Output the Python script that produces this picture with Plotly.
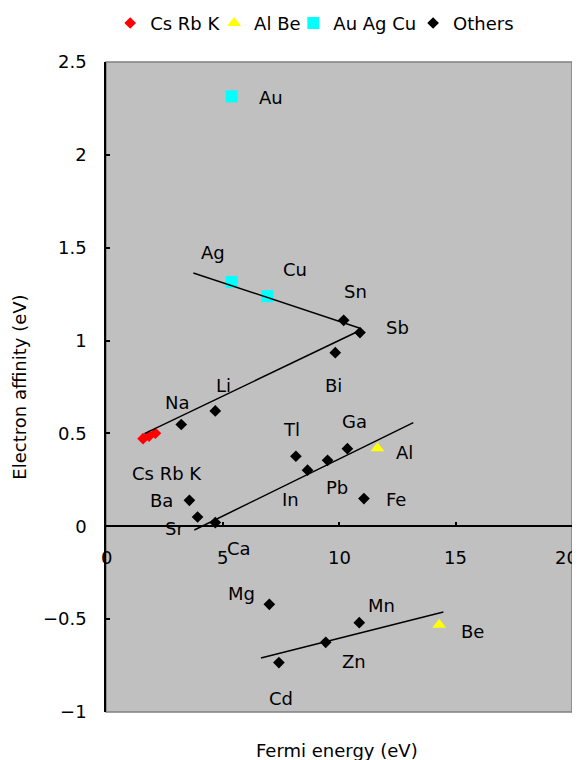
import plotly.graph_objects as go

# ---- data ----
alkali_names = ["Cs", "Rb", "K"]
alkali_x = [1.59, 1.85, 2.12]
alkali_y = [0.472, 0.486, 0.501]

albe_names = ["Al", "Be"]
albe_x = [11.65, 14.3]
albe_y = [0.42, -0.53]

noble_names = ["Au", "Ag", "Cu"]
noble_x = [5.39, 5.39, 6.92]
noble_y = [2.315, 1.316, 1.239]

others_names = ["Sn", "Sb", "Bi", "Li", "Na", "Tl", "In", "Pb", "Ga", "Fe",
                "Ba", "Sr", "Ca", "Mg", "Mn", "Zn", "Cd"]
others_x = [10.2, 10.9, 9.84, 4.69, 3.23, 8.15, 8.65, 9.51, 10.36, 11.07,
            3.58, 3.93, 4.69, 7.01, 10.87, 9.43, 7.42]
others_y = [1.109, 1.043, 0.935, 0.621, 0.548, 0.377, 0.302, 0.355, 0.418, 0.149,
            0.14, 0.05, 0.02, -0.42, -0.519, -0.625, -0.734]

# trend lines (end points)
trend_a_x = [3.75, 10.87]
trend_a_y = [1.364, 1.068]
trend_b_x = [1.65, 10.76]
trend_b_y = [0.499, 1.046]
trend_c_x = [3.79, 13.19]
trend_c_y = [-0.02, 0.558]
trend_d_x = [6.65, 14.48]
trend_d_y = [-0.709, -0.461]

# point labels: text and label position
label_text = ["Au", "Ag", "Cu", "Sn", "Sb", "Bi", "Li", "Na", "Tl", "Ga", "Al",
              "Pb", "Fe", "In", "Cs Rb K", "Ba", "Sr", "Ca", "Mg", "Mn", "Be", "Zn", "Cd"]
label_x = [7.07, 4.58, 8.11, 10.69, 12.49, 9.76, 5.03, 3.06, 7.97, 10.66, 12.83,
           9.9, 12.43, 7.93, 2.6, 2.39, 2.96, 5.71, 5.82, 11.83, 15.74, 10.64, 7.51]
label_y = [2.307, 1.472, 1.382, 1.265, 1.072, 0.759, 0.759, 0.664, 0.521, 0.562, 0.395,
           0.208, 0.145, 0.144, 0.284, 0.14, -0.012, -0.118, -0.362, -0.429, -0.565, -0.727, -0.925]

x_tick_vals = [0, 5, 10, 15, 20]
x_tick_text = ["0", "5", "10", "15", "20"]

x_range = [0, 20]
y_range = [-1, 2.5]

FONT = "DejaVu Sans"
FS = 18

fig = go.Figure()

series = [
    ("Cs Rb K", alkali_x, alkali_y, "diamond", 9, "#ff0000", "legend"),
    ("Al Be", albe_x, albe_y, "triangle-up", 12, "#ffff00", "legend2"),
    ("Au Ag Cu", noble_x, noble_y, "square", 12, "#00ffff", "legend3"),
    ("Others", others_x, others_y, "diamond", 9, "#000000", "legend4"),
]
for name, sx, sy, sym, sz, col, lg in series:
    fig.add_trace(go.Scatter(x=sx, y=sy, mode="markers", name=name, legend=lg,
                             marker=dict(symbol=sym, size=sz, color=col)))

for tx, ty in [(trend_a_x, trend_a_y), (trend_b_x, trend_b_y),
               (trend_c_x, trend_c_y), (trend_d_x, trend_d_y)]:
    fig.add_trace(go.Scatter(x=tx, y=ty, mode="lines", showlegend=False,
                             line=dict(color="black", width=1.5), hoverinfo="skip"))

for t, lx, ly in zip(label_text, label_x, label_y):
    fig.add_annotation(x=lx, y=ly, text=t, showarrow=False,
                       font=dict(family=FONT, size=FS, color="black"),
                       xanchor="center", yanchor="middle")

# x tick labels placed just below the axis line at y = 0
for i, (tv, tt) in enumerate(zip(x_tick_vals, x_tick_text)):
    last = i == len(x_tick_vals) - 1
    fig.add_annotation(x=tv, y=0, text=tt, showarrow=False,
                       font=dict(family=FONT, size=FS, color="black"),
                       xanchor="right" if last else "center",
                       xshift=8 if last else 0,
                       yanchor="middle", yshift=-31)

# x-axis title at bottom
fig.add_annotation(xref="paper", yref="paper", x=0.496, y=-0.0585,
                   text="Fermi energy (eV)", showarrow=False,
                   font=dict(family=FONT, size=FS, color="black"),
                   xanchor="center", yanchor="middle")

# plot-area border (gray)
fig.add_shape(type="rect", xref="paper", yref="paper", x0=0, y0=0, x1=1, y1=1,
              line=dict(color="#808080", width=1.5), layer="below")

zero_pos = (0 - y_range[0]) / (y_range[1] - y_range[0])

def leg(x):
    return dict(orientation="h", x=x, y=1.088, xanchor="left", yanchor="top",
                font=dict(family=FONT, size=FS, color="black"),
                bgcolor="rgba(0,0,0,0)")

fig.update_layout(
    width=580, height=752,
    margin=dict(l=98, r=16, t=54, b=48, autoexpand=False),
    paper_bgcolor="white", plot_bgcolor="#c0c0c0",
    font=dict(family=FONT, size=FS, color="black"),
    showlegend=True,
    legend=leg(0.009), legend2=leg(0.232), legend3=leg(0.402), legend4=leg(0.659),
    xaxis=dict(range=x_range, tickvals=x_tick_vals, anchor="free", position=zero_pos,
               showline=True, linecolor="black", linewidth=1.5,
               ticks="inside", ticklen=4, tickcolor="black", tickwidth=1.5,
               showgrid=False, zeroline=False, showticklabels=False,
               automargin=False),
    yaxis=dict(range=y_range, dtick=0.5, tick0=0,
               showline=True, linecolor="black", linewidth=1.5,
               ticks="inside", ticklen=4, tickcolor="black", tickwidth=1.5,
               showgrid=False, zeroline=False, ticklabelstandoff=14,
               automargin=False,
               tickfont=dict(family=FONT, size=FS, color="black"),
               title=dict(text="Electron affinity (eV)", standoff=12,
                          font=dict(family=FONT, size=FS, color="black"))),
)

fig.write_html("out.html")
